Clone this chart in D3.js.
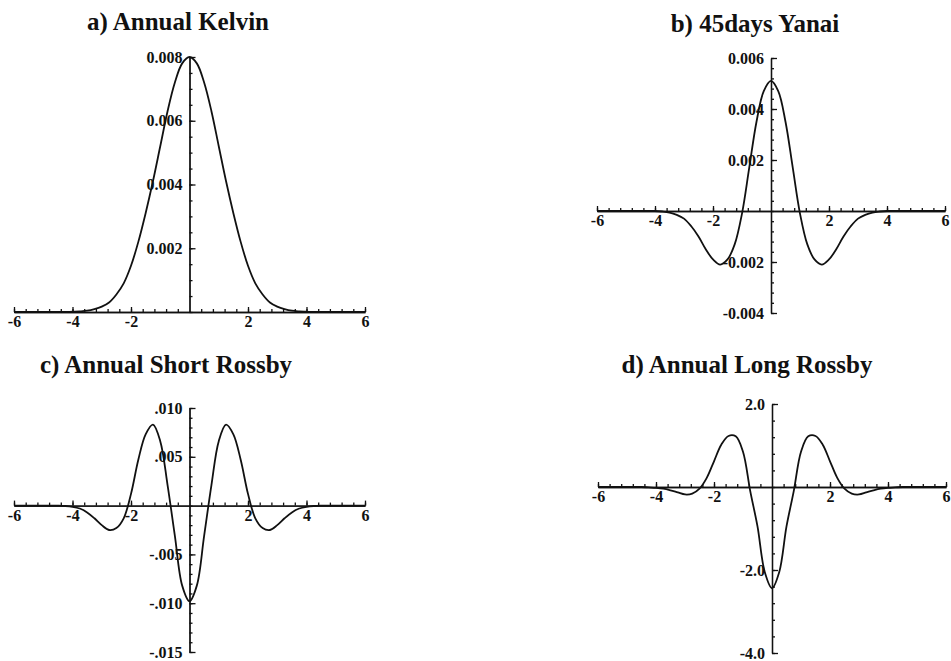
<!DOCTYPE html>
<html>
<head>
<meta charset="utf-8">
<script src="https://cdn.jsdelivr.net/npm/d3@7"></script>
<style>
  body { margin: 0; background: #fff; }
  svg { display: block; }
</style>
</head>
<body>
<script>
const xs = [-6, -5.75, -5.5, -5.25, -5, -4.75, -4.5, -4.25, -4, -3.75, -3.5, -3.25,
            -3, -2.75, -2.5, -2.25, -2, -1.75, -1.5, -1.25, -1, -0.75, -0.5, -0.25,
            0, 0.25, 0.5, 0.75, 1, 1.25, 1.5, 1.75, 2, 2.25, 2.5, 2.75,
            3, 3.25, 3.5, 3.75, 4, 4.25, 4.5, 4.75, 5, 5.25, 5.5, 5.75, 6];

const kelvin = [0, 0, 0, 0, 0, 0, 0, 0, 0.00001, 0.00002, 0.00004, 0.00009,
                0.00017, 0.0003, 0.00055, 0.0009, 0.00145, 0.0022, 0.0031, 0.0041, 0.0052, 0.0063, 0.0072, 0.0078,
                0.0080, 0.0078, 0.0072, 0.0063, 0.0052, 0.0041, 0.0031, 0.0022, 0.00145, 0.0009, 0.00055, 0.0003,
                0.00017, 0.00009, 0.00004, 0.00002, 0.00001, 0, 0, 0, 0, 0, 0, 0, 0];

const yanai = [0, 0, 0, 0, 0, 0, 0, 0, 0, -0.00002, -0.00006, -0.00015,
               -0.0003, -0.0006, -0.0010, -0.0015, -0.0019, -0.0021, -0.0019, -0.0013, -0.0001, 0.0017, 0.0035, 0.0047,
               0.0051, 0.0047, 0.0035, 0.0017, -0.0001, -0.0013, -0.0019, -0.0021, -0.0019, -0.0015, -0.0010, -0.0006,
               -0.0003, -0.00015, -0.00006, -0.00002, 0, 0, 0, 0, 0, 0, 0, 0, 0];

const shortRossby = [0, 0, 0, 0, 0, 0, -0.00001, -0.00004, -0.00012, -0.0003, -0.0007, -0.0013,
                     -0.0020, -0.0025, -0.0023, -0.0013, 0.0012, 0.0047, 0.0073, 0.0083, 0.0066, 0.0021, -0.0031, -0.0082,
                     -0.0098, -0.0082, -0.0031, 0.0021, 0.0066, 0.0083, 0.0073, 0.0047, 0.0012, -0.0013, -0.0023, -0.0025,
                     -0.0020, -0.0013, -0.0007, -0.0003, -0.00012, -0.00004, -0.00001, 0, 0, 0, 0, 0, 0];

const longRossby = [0, 0, 0, 0, 0, 0, 0, -0.01, -0.02, -0.04, -0.08, -0.13,
                    -0.18, -0.16, -0.04, 0.22, 0.62, 1.02, 1.23, 1.22, 0.85, -0.1, -0.95, -2.05,
                    -2.44, -2.05, -0.95, -0.1, 0.85, 1.22, 1.23, 1.02, 0.62, 0.22, -0.04, -0.16,
                    -0.18, -0.13, -0.08, -0.04, -0.02, -0.01, 0, 0, 0, 0, 0, 0, 0];

const xTicks = [-6, -4, -2, 2, 4, 6];
const xTickLabels = ['-6', '-4', '-2', '2', '4', '6'];

const kelvinTicks = [0.002, 0.004, 0.006, 0.008];
const kelvinLabels = ['0.002', '0.004', '0.006', '0.008'];
const yanaiTicks = [-0.004, -0.002, 0.002, 0.004, 0.006];
const yanaiLabels = ['-0.004', '-0.002', '0.002', '0.004', '0.006'];
const shortTicks = [-0.015, -0.010, -0.005, 0.005, 0.010];
const shortLabels = ['-.015', '-.010', '-.005', '.005', '.010'];
const longTicks = [-4, -2, 2];
const longLabels = ['-4.0', '-2.0', '2.0'];

const panels = [
    { title: 'a) Annual Kelvin', tx: 178, ty: 30, values: kelvin,
      xr: [14, 365], yd: [0, 0.008], yr: [312, 57],
      ticks: kelvinTicks, labels: kelvinLabels, minor: 0.0005 },
    { title: 'b) 45days Yanai', tx: 755, ty: 32, values: yanai,
      xr: [597, 945], yd: [-0.004, 0.006], yr: [313, 58],
      ticks: yanaiTicks, labels: yanaiLabels, minor: 0.0004 },
    { title: 'c) Annual Short Rossby', tx: 166, ty: 373, values: shortRossby,
      xr: [14, 365], yd: [-0.015, 0.010], yr: [652, 408],
      ticks: shortTicks, labels: shortLabels, minor: 0.001 },
    { title: 'd) Annual Long Rossby', tx: 747, ty: 373, values: longRossby,
      xr: [598, 946], yd: [-4, 2], yr: [653, 404],
      ticks: longTicks, labels: longLabels, minor: 0.4 },
];

const width = 951;
const height = 661;
const font = "'Liberation Serif', 'Times New Roman', serif";

const svg = d3.select('body')
    .append('svg')
    .attr('width', width)
    .attr('height', height);

svg.append('rect')
    .attr('width', width)
    .attr('height', height)
    .attr('fill', '#fff');

function styleAxis(g) {
    g.selectAll('path, line').attr('stroke', '#111').attr('stroke-width', 1.3);
    g.selectAll('text')
        .attr('font-family', font)
        .attr('font-weight', 'bold')
        .attr('font-size', 16)
        .attr('fill', '#111');
}

panels.forEach(p => {
    const x = d3.scaleLinear().domain([-6, 6]).range(p.xr);
    const y = d3.scaleLinear().domain(p.yd).range(p.yr);
    const g = svg.append('g');

    // minor ticks first, majors drawn on top
    const xMinor = d3.range(-6, 6.001, 0.4).filter(v => Math.abs(v) > 1e-6);
    const xMinorAxis = d3.axisBottom(x).tickValues(xMinor).tickSize(-3).tickSizeOuter(0).tickFormat('');
    const xAxis = d3.axisBottom(x).tickValues(xTicks).tickSize(-5).tickSizeOuter(0).tickPadding(4)
        .tickFormat(d => xTickLabels[xTicks.indexOf(d)]);

    g.append('g')
        .attr('transform', `translate(0, ${y(0)})`)
        .call(xMinorAxis)
        .call(styleAxis);
    g.append('g')
        .attr('transform', `translate(0, ${y(0)})`)
        .call(xAxis)
        .call(styleAxis);

    const yMinor = d3.range(p.yd[0], p.yd[1] + p.minor / 2, p.minor);
    const yMinorAxis = d3.axisLeft(y).tickValues(yMinor).tickSize(-3).tickSizeOuter(0).tickFormat('');
    const yAxis = d3.axisLeft(y).tickValues(p.ticks).tickSize(-6).tickSizeOuter(0).tickPadding(7)
        .tickFormat(d => p.labels[p.ticks.indexOf(d)]);

    g.append('g')
        .attr('transform', `translate(${x(0)}, 0)`)
        .call(yMinorAxis)
        .call(styleAxis);
    g.append('g')
        .attr('transform', `translate(${x(0)}, 0)`)
        .call(yAxis)
        .call(styleAxis);

    const line = d3.line()
        .curve(d3.curveCatmullRom)
        .x((d, i) => x(xs[i]))
        .y(d => y(d));

    g.append('path')
        .datum(p.values)
        .attr('fill', 'none')
        .attr('stroke', '#111')
        .attr('stroke-width', 1.8)
        .attr('d', line);

    svg.append('text')
        .attr('x', p.tx)
        .attr('y', p.ty)
        .attr('text-anchor', 'middle')
        .attr('font-family', font)
        .attr('font-weight', 'bold')
        .attr('font-size', 25)
        .attr('fill', '#111')
        .text(p.title);
});
</script>
</body>
</html>
